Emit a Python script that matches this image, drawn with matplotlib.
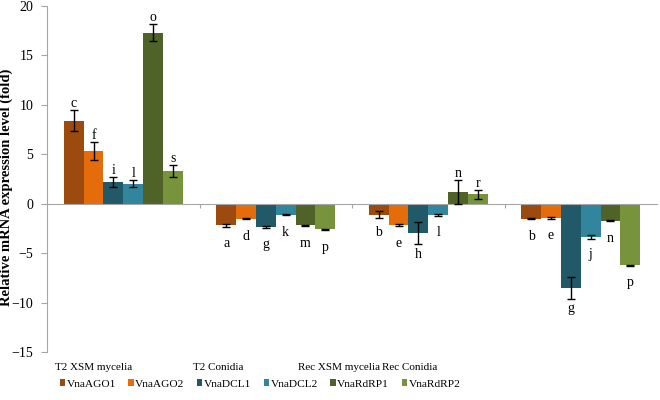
import numpy as np
import matplotlib
matplotlib.use("Agg")
import matplotlib.pyplot as plt
from matplotlib.patches import Patch

plt.rcParams['font.family'] = ['Liberation Serif', 'DejaVu Serif']

categories = ["T2 XSM mycelia", "T2 Conidia", "Rec XSM mycelia", "Rec Conidia"]
genes = ["VnaAGO1", "VnaAGO2", "VnaDCL1", "VnaDCL2", "VnaRdRP1", "VnaRdRP2"]
colors = ["#9C4A0E", "#E46C0A", "#215968", "#31859C", "#4F6228", "#77933C"]

# values[gene][category]
values = [
    [8.4, -2.2, -1.1, -1.5],
    [5.3, -1.5, -2.2, -1.45],
    [2.2, -2.35, -3.0, -8.5],
    [2.0, -1.1, -1.1, -3.4],
    [17.3, -2.2, 1.15, -1.7],
    [3.3, -2.6, 0.95, -6.2],
]
errors = [
    [1.05, 0.12, 0.35, 0.05],
    [0.9, 0.05, 0.1, 0.12],
    [0.5, 0.1, 1.1, 1.1],
    [0.35, 0.05, 0.1, 0.2],
    [0.85, 0.05, 1.2, 0.05],
    [0.6, 0.05, 0.45, 0.05],
]
letters = [
    ["c", "a", "b", "b"],
    ["f", "d", "e", "e"],
    ["i", "g", "h", "g"],
    ["l", "k", "l", "j"],
    ["o", "m", "n", "n"],
    ["s", "p", "r", "p"],
]

fig = plt.figure(figsize=(6.6, 4.0), dpi=100)
ax = fig.add_axes([47 / 660, 48 / 400, 610 / 660, 346 / 400])
ymin, ymax = -15, 20
pt_per_unit = ax.bbox.height / (ymax - ymin) * 72 / fig.dpi

x = np.arange(len(categories))
w = 0.13
for i, g in enumerate(genes):
    pos = x - 0.5 + 0.11 + w * (i + 0.5)
    ax.bar(pos, values[i], w, color=colors[i], label=g, zorder=2)
    ax.errorbar(pos, values[i], yerr=errors[i], fmt='none', ecolor='black',
                elinewidth=1, capsize=3, capthick=1, zorder=3)
    for p, v, e, t in zip(pos, values[i], errors[i], letters[i]):
        if v >= 0:
            ax.annotate(t, (p, v + e), xytext=(0, 0), textcoords='offset points',
                        ha='center', va='bottom', fontsize=10)
        else:
            off = max(8, e * pt_per_unit + 2.5)
            ax.annotate(t, (p, v), xytext=(0, -off), textcoords='offset points',
                        ha='center', va='top', fontsize=10)

ax.set_xlim(-0.5, 3.5)
ax.set_ylim(ymin, ymax)
ax.set_yticks(np.arange(-15, 21, 5))
ax.tick_params(axis='y', labelsize=10, length=4, color='#A6A6A6', pad=6)
ax.set_xticks([0.5, 1.5, 2.5])
ax.set_xticklabels([])
ax.tick_params(axis='x', length=3, color='#A6A6A6', direction='out')
ax.spines['bottom'].set_position(('data', 0))
for s in ['top', 'right']:
    ax.spines[s].set_visible(False)
for s in ['left', 'bottom']:
    ax.spines[s].set_color('#A6A6A6')

ax.set_ylabel("Relative mRNA expression level (fold)", fontsize=10.5,
              fontweight='bold')
ax.yaxis.set_label_coords(-34 / 610, 0.477)

cat_x = [94, 218, 339, 410]
for cx, c in zip(cat_x, categories):
    fig.text(cx / 660, 1 - 368 / 400, c, ha='center', va='center', fontsize=8)

handles = [Patch(facecolor=c, label=g) for c, g in zip(colors, genes)]
fig.legend(handles=handles, loc='center', bbox_to_anchor=(260 / 660, 1 - 384 / 400),
           ncol=6, frameon=False, fontsize=8.2, handlelength=0.45, handleheight=0.45,
           handletextpad=0.15, columnspacing=1.1)

fig.savefig("out.png", dpi=100)
